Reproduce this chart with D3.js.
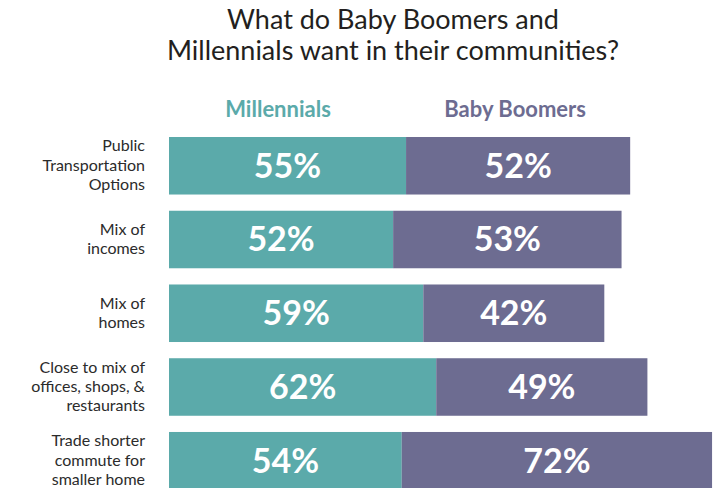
<!DOCTYPE html>
<html>
<head>
<meta charset="utf-8">
<title>Baby Boomers and Millennials</title>
<style>
  body { margin: 0; background: #fff; }
  text { font-family: Lato, "Open Sans", sans-serif; }
  .title { font-size: 27px; fill: #231f20; }
  .head { font-size: 22px; font-weight: bold; }
  .cat { font-size: 16px; fill: #2b2b2b; }
  .val { font-size: 34px; font-weight: bold; fill: #fff; }
</style>
</head>
<body>
<script src="https://cdnjs.cloudflare.com/ajax/libs/d3/7.8.5/d3.min.js"></script>
<script>
// data
var categories = [
  ['Public', 'Transportation', 'Options'],
  ['Mix of', 'incomes'],
  ['Mix of', 'homes'],
  ['Close to mix of', 'offices, shops, &', 'restaurants'],
  ['Trade shorter', 'commute for', 'smaller home']
];
var millennials = [55, 52, 59, 62, 54];
var boomers = [52, 53, 42, 49, 72];
var seriesNames = ['Millennials', 'Baby Boomers'];
var colors = ['#5baaaa', '#6d6c91'];
var titleLines = ['What do Baby Boomers and', 'Millennials want in their communities?'];

var W = 717, H = 488;

var svg = d3.select('body').append('svg')
  .attr('width', W)
  .attr('height', H);

var x = d3.scaleLinear().domain([0, 100]).range([169, 600]);
// step ~73.75, bar ~57.5
var y = d3.scaleBand()
  .domain(d3.range(categories.length))
  .range([137, 489.5])
  .paddingInner(0.22)
  .paddingOuter(0);

// title
svg.append('text').attr('class', 'title')
  .attr('text-anchor', 'middle')
  .selectAll('tspan').data(titleLines).enter().append('tspan')
  .attr('x', 393)
  .attr('y', function(d, i) { return 29 + i * 31; })
  .text(function(d) { return d; });

// column headers
svg.selectAll('.head').data(seriesNames).enter().append('text')
  .attr('class', 'head')
  .attr('text-anchor', 'middle')
  .attr('x', function(d, i) { return i == 0 ? x(25.3) : x(80.3); })
  .attr('y', 117)
  .attr('fill', function(d, i) { return colors[i]; })
  .text(function(d) { return d; });

var rows = categories.map(function(c, i) {
  return { cat: c, a: millennials[i], b: boomers[i], i: i };
});

var g = svg.selectAll('.row').data(rows).enter().append('g')
  .attr('class', 'row')
  .attr('transform', function(d) { return 'translate(0,' + y(d.i) + ')'; });

var bh = y.bandwidth();

// millennials bar
g.append('rect')
  .attr('x', x(0))
  .attr('y', 0)
  .attr('width', function(d) { return x(d.a) - x(0); })
  .attr('height', bh)
  .attr('fill', colors[0]);

// boomers bar stacked after
g.append('rect')
  .attr('x', function(d) { return x(d.a); })
  .attr('y', 0)
  .attr('width', function(d) { return x(d.a + d.b) - x(d.a); })
  .attr('height', bh)
  .attr('fill', colors[1]);

// values
g.append('text').attr('class', 'val')
  .attr('text-anchor', 'middle')
  .attr('x', function(d) { return (x(0) + x(d.a)) / 2; })
  .attr('y', bh / 2 + 12)
  .text(function(d) { return d.a + '%'; });

g.append('text').attr('class', 'val')
  .attr('text-anchor', 'middle')
  .attr('x', function(d) { return (x(d.a) + x(d.a + d.b)) / 2; })
  .attr('y', bh / 2 + 12)
  .text(function(d) { return d.b + '%'; });

// category labels
g.append('text').attr('class', 'cat')
  .attr('text-anchor', 'end')
  .each(function(d) {
    var n = d.cat.length;
    d3.select(this).selectAll('tspan').data(d.cat).enter().append('tspan')
      .attr('x', 145)
      .attr('y', function(t, k) { return bh / 2 + 5 + (k - (n - 1) / 2) * 19.3; })
      .text(function(t) { return t; });
  });
</script>
</body>
</html>
